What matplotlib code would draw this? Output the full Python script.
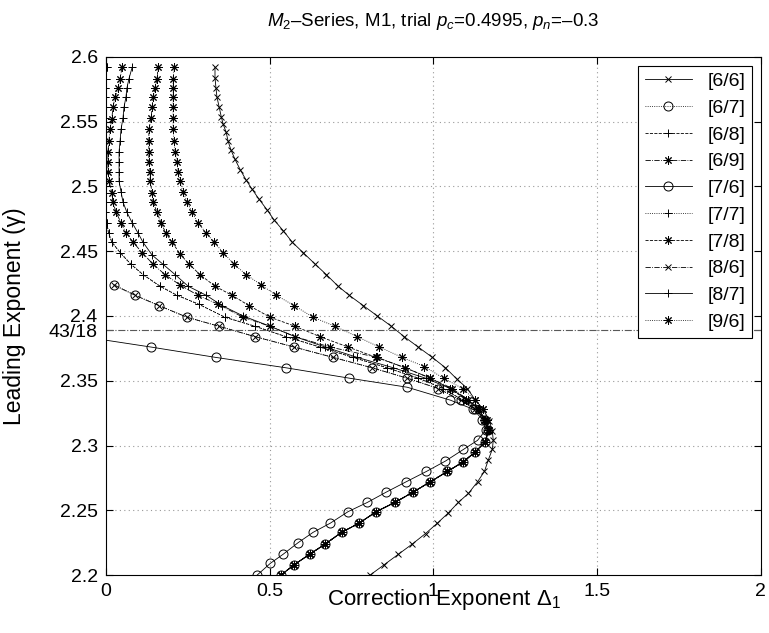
import matplotlib
matplotlib.use('Agg')
import matplotlib.pyplot as plt

plt.rcParams['font.family'] = ['Liberation Sans', 'DejaVu Sans']
plt.rcParams['mathtext.fontset'] = 'custom'
plt.rcParams['mathtext.rm'] = 'Liberation Sans'
plt.rcParams['mathtext.it'] = 'Liberation Sans:italic'

# [6/6] : upper branch then lower branch (delta, gamma)
d66 = [0.333, 0.333, 0.336, 0.339, 0.346, 0.352, 0.358, 0.367, 0.373, 0.382,
       0.394, 0.410, 0.428, 0.446, 0.468, 0.492, 0.514, 0.541, 0.569, 0.602,
       0.639, 0.673, 0.709, 0.743, 0.786, 0.829, 0.872, 0.911, 0.954, 0.997,
       1.037, 1.073, 1.104, 1.128, 1.153, 1.171, 1.180, 1.183,
       1.180, 1.168, 1.156, 1.135, 1.107, 1.076, 1.046, 1.012, 0.976, 0.936,
       0.893, 0.850, 0.807]
g66 = [2.592, 2.584, 2.576, 2.569, 2.561, 2.554, 2.548, 2.542, 2.535, 2.528,
       2.521, 2.513, 2.505, 2.498, 2.490, 2.482, 2.474, 2.466, 2.457, 2.449,
       2.440, 2.432, 2.423, 2.416, 2.408, 2.400, 2.392, 2.384, 2.376, 2.368,
       2.360, 2.351, 2.344, 2.335, 2.328, 2.319, 2.311, 2.304,
       2.297, 2.289, 2.280, 2.272, 2.263, 2.256, 2.248, 2.240, 2.232, 2.224,
       2.216, 2.208, 2.200]

# [7/6]
d76 = [-0.07, 0.138, 0.336, 0.550, 0.743, 0.920, 1.052, 1.122, 1.150, 1.160,
       1.135, 1.092, 1.037, 0.979, 0.917, 0.856, 0.798, 0.740, 0.685, 0.633,
       0.587, 0.541, 0.502, 0.462]
g76 = [2.384, 2.376, 2.368, 2.360, 2.352, 2.345, 2.335, 2.328, 2.320, 2.312,
       2.304, 2.297, 2.288, 2.280, 2.272, 2.264, 2.256, 2.249, 2.240, 2.233,
       2.225, 2.216, 2.209, 2.200]

# shared lower branch of the remaining approximants
d_low = [1.159, 1.128, 1.089, 1.043, 0.991, 0.938, 0.882, 0.826, 0.773, 0.720,
         0.670, 0.622, 0.575, 0.535]
g_low = [2.303, 2.295, 2.287, 2.280, 2.272, 2.264, 2.256, 2.249, 2.240, 2.233,
         2.224, 2.216, 2.208, 2.200]

# [6/7] and [8/6] (coincide)
d67_up = [0.024, 0.089, 0.162, 0.248, 0.346, 0.456, 0.575, 0.694, 0.813, 0.920,
          1.015, 1.083, 1.128, 1.159, 1.168]
g67_up = [2.424, 2.416, 2.408, 2.399, 2.392, 2.384, 2.376, 2.368, 2.360, 2.352,
          2.344, 2.335, 2.328, 2.320, 2.312]

# [6/8] and [7/7]
d68_up = [0.003, 0.000, -0.002, -0.003, -0.003, -0.003, -0.002, -0.001, 0.000,
          0.001, 0.001, 0.000, -0.002, -0.003, -0.002, 0.002, 0.008, 0.018,
          0.043, 0.076, 0.113, 0.165, 0.217, 0.284, 0.364, 0.456, 0.550, 0.654,
          0.755, 0.859, 0.954, 1.030, 1.090, 1.130, 1.155, 1.167]
g68_up = [2.592, 2.583, 2.576, 2.569, 2.561, 2.553, 2.544, 2.535, 2.527,
          2.519, 2.511, 2.504, 2.495, 2.488, 2.480, 2.472, 2.464, 2.457,
          2.449, 2.440, 2.432, 2.423, 2.416, 2.409, 2.399, 2.392, 2.384, 2.376,
          2.368, 2.360, 2.352, 2.344, 2.335, 2.328, 2.320, 2.312]

# [8/7]
d87_up = [0.080, 0.070, 0.064, 0.061, 0.055, 0.052, 0.046, 0.043, 0.040, 0.040,
          0.040, 0.040, 0.046, 0.052, 0.064, 0.080, 0.098, 0.113, 0.141, 0.174,
          0.211, 0.251, 0.306, 0.355, 0.419, 0.502, 0.578, 0.670, 0.768, 0.878,
          0.976, 1.052, 1.107, 1.138, 1.159, 1.168]
g87_up = [2.592, 2.583, 2.576, 2.569, 2.561, 2.553, 2.544, 2.535, 2.527, 2.519,
          2.511, 2.504, 2.496, 2.488, 2.480, 2.472, 2.464, 2.457, 2.447, 2.440,
          2.432, 2.423, 2.416, 2.408, 2.400, 2.392, 2.384, 2.376, 2.368, 2.360,
          2.352, 2.344, 2.335, 2.328, 2.320, 2.312]

# [6/9]
d69_up = [0.049, 0.043, 0.037, 0.028, 0.021, 0.018, 0.012, 0.009, 0.006, 0.006,
          0.006, 0.010, 0.018, 0.021, 0.031, 0.046, 0.061, 0.083, 0.110, 0.144,
          0.180, 0.226, 0.281, 0.343, 0.419, 0.502, 0.578, 0.685, 0.829, 0.914,
          0.991, 1.058, 1.107, 1.138, 1.159, 1.168]
g69_up = [2.592, 2.583, 2.576, 2.569, 2.561, 2.552, 2.544, 2.535, 2.527, 2.519,
          2.511, 2.504, 2.495, 2.488, 2.480, 2.472, 2.464, 2.457, 2.449, 2.440,
          2.432, 2.424, 2.416, 2.409, 2.399, 2.392, 2.384, 2.376, 2.368, 2.360,
          2.352, 2.344, 2.335, 2.328, 2.320, 2.312]

# [7/8]
d78_up = [0.159, 0.156, 0.150, 0.144, 0.141, 0.138, 0.131, 0.131, 0.131, 0.131,
          0.135, 0.135, 0.141, 0.144, 0.156, 0.168, 0.183, 0.202, 0.226, 0.254,
          0.287, 0.333, 0.385, 0.437, 0.502, 0.578, 0.654, 0.740, 0.826, 0.914,
          0.991, 1.052, 1.101, 1.135, 1.156, 1.168]
g78_up = [2.592, 2.583, 2.576, 2.569, 2.561, 2.553, 2.544, 2.535, 2.527, 2.519,
          2.511, 2.504, 2.495, 2.488, 2.480, 2.472, 2.464, 2.457, 2.448, 2.440,
          2.432, 2.423, 2.416, 2.408, 2.399, 2.392, 2.384, 2.376, 2.368, 2.360,
          2.352, 2.344, 2.335, 2.328, 2.320, 2.312]

# [9/6]
d96_up = [0.208, 0.205, 0.205, 0.205, 0.205, 0.205, 0.205, 0.208, 0.211, 0.217,
          0.220, 0.226, 0.235, 0.248, 0.263, 0.281, 0.306, 0.330, 0.358, 0.391,
          0.428, 0.474, 0.520, 0.575, 0.633, 0.700, 0.768, 0.835, 0.905, 0.972,
          1.031, 1.089, 1.128, 1.153, 1.165, 1.171]
g96_up = [2.592, 2.583, 2.576, 2.569, 2.561, 2.553, 2.544, 2.535, 2.527, 2.519,
          2.511, 2.504, 2.496, 2.488, 2.480, 2.472, 2.464, 2.457, 2.449, 2.440,
          2.432, 2.424, 2.416, 2.408, 2.399, 2.392, 2.384, 2.376, 2.368, 2.361,
          2.352, 2.344, 2.335, 2.328, 2.320, 2.312]

star = (8, 2, 0)
series = [
    ('[6/6]', d66, g66, '-', 'x'),
    ('[6/7]', d67_up + d_low, g67_up + g_low, ':', 'o'),
    ('[6/8]', d68_up + d_low, g68_up + g_low, '--', '+'),
    ('[6/9]', d69_up + d_low, g69_up + g_low, '-.', star),
    ('[7/6]', d76, g76, '-', 'o'),
    ('[7/7]', d68_up + d_low, g68_up + g_low, ':', '+'),
    ('[7/8]', d78_up + d_low, g78_up + g_low, '--', star),
    ('[8/6]', d67_up + d_low, g67_up + g_low, '-.', 'x'),
    ('[8/7]', d87_up + d_low, g87_up + g_low, '-', '+'),
    ('[9/6]', d96_up + d_low, g96_up + g_low, ':', star),
]
msize = {'x': 5, 'o': 6.5, '+': 6}

fig = plt.figure(figsize=(7.69, 6.33), dpi=100)
ax = fig.add_axes([0.1378, 0.0916, 0.8515, 0.8184])

for name, d, g, ls, mk in series:
    ax.plot(d, g, color='k', ls=ls, lw=0.6, marker=mk,
            ms=msize.get(mk if isinstance(mk, str) else '', 6),
            mfc='none', mec='k', mew=0.7, label=name)

ax.axhline(43 / 18, color='0.35', ls='-.', lw=0.8)

ax.set_xlim(0, 2)
ax.set_ylim(2.2, 2.6)
ax.set_xticks([0, 0.5, 1, 1.5, 2])
ax.set_xticklabels(['0', '0.5', '1', '1.5', '2'])
yt = [2.2, 2.25, 2.3, 2.35, 43 / 18, 2.4, 2.45, 2.5, 2.55, 2.6]
ax.set_yticks(yt)
ax.set_yticklabels(['2.2', '2.25', '2.3', '2.35', '43/18', '2.4', '2.45',
                    '2.5', '2.55', '2.6'])
ax.tick_params(direction='in', top=True, right=True, labelsize=14,
               length=5, pad=6)
for v in [0.5, 1, 1.5]:
    ax.axvline(v, color='0.6', ls=(0, (1, 3)), lw=0.8, zorder=0)
for v in [2.25, 2.3, 2.35, 2.4, 2.45, 2.5, 2.55]:
    ax.axhline(v, color='0.6', ls=(0, (1, 3)), lw=0.8, zorder=0)

ax.set_title('$M_2$\u2013Series, M1, trial $p_c$=0.4995, $p_n$=\u20130.3',
             fontsize=13.5, pad=22)
ax.set_xlabel('Correction Exponent $\\Delta_1$', fontsize=16)
ax.xaxis.set_label_coords(0.516, -0.024)
ax.set_ylabel('Leading Exponent (\u03b3)', fontsize=16.5)
ax.yaxis.set_label_coords(-0.122, 0.5)

leg = ax.legend(loc='upper right', fontsize=14, frameon=True, fancybox=False,
                edgecolor='k', framealpha=1, handlelength=2.4,
                borderaxespad=0.45, labelspacing=0.47, borderpad=0.35)
leg.get_frame().set_linewidth(0.8)

fig.savefig('out.png', dpi=100)
